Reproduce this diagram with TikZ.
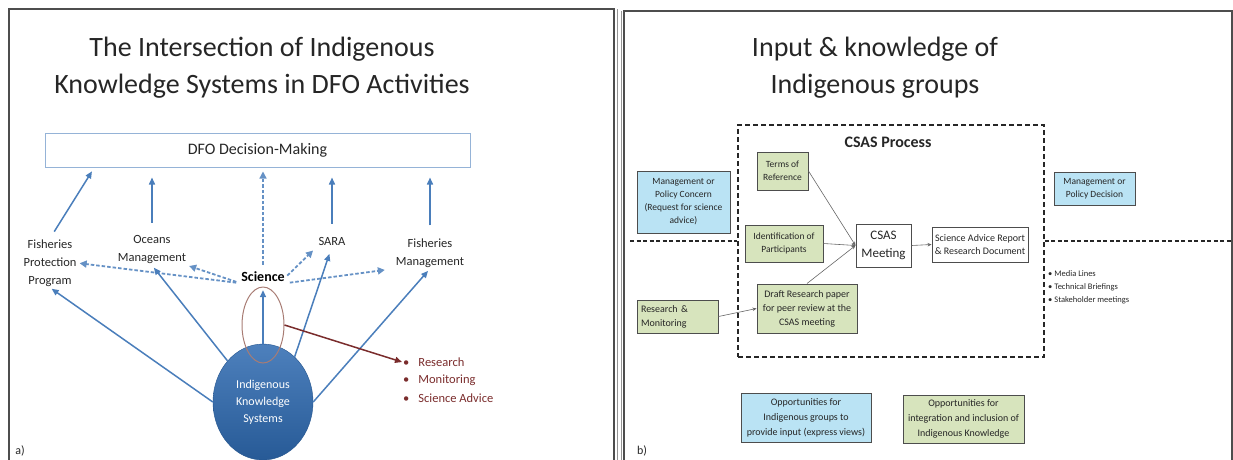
\documentclass[tikz,border=0pt]{standalone}
\usepackage{fontspec}
\setmainfont{Carlito}
\usetikzlibrary{arrows.meta}
\usetikzlibrary{shapes.geometric}

\definecolor{dfoblue}{HTML}{4A7EBB}
\definecolor{dfoframe}{HTML}{95B3D7}
\definecolor{iksfill}{HTML}{2E6AB1}
\definecolor{lensbrown}{HTML}{A87C74}
\definecolor{taskred}{HTML}{7A2C2C}
\definecolor{inputblue}{HTML}{BAE3F4}
\definecolor{ikgreen}{HTML}{D7E4BD}
\definecolor{boxgray}{HTML}{4D4D4D}

\begin{document}
\begin{tikzpicture}[x=1pt, y=-1pt,
  panel/.style={draw=boxgray, line width=1.3pt},
  heading/.style={font=\fontsize{28}{37}\selectfont, align=center, text=black!85},
  lbl/.style={font=\fontsize{12.5}{18}\selectfont, align=center, text=black!85, inner sep=1pt},
  dfobox/.style={draw=dfoframe, line width=1pt, minimum width=425pt, minimum height=34pt, font=\fontsize{16}{18}\selectfont, text=black!85},
  iks/.style={ellipse, top color=iksfill!85!white, bottom color=iksfill!85!black, draw=iksfill!80!black, minimum width=100pt, minimum height=116pt, inner sep=0pt, align=center, text=white, font=\fontsize{12}{17}\selectfont},
  lens/.style={ellipse, draw=lensbrown, line width=1pt, minimum width=42pt, minimum height=76pt},
  up/.style={draw=dfoblue, line width=1.5pt, -{Triangle[length=7pt,width=6pt]}},
  sciarrow/.style={draw=dfoblue!85, line width=1.8pt, dash pattern=on 3.5pt off 2pt, -{Triangle[length=7pt,width=7pt]}},
  taskarrow/.style={draw=taskred, line width=1.5pt, -{Triangle[length=7pt,width=6pt]}},
  task/.style={font=\fontsize{12.5}{18}\selectfont, text=taskred, inner sep=1pt},
  ibox/.style={draw=boxgray, line width=1pt, align=center, inner sep=1pt, font=\fontsize{9.5}{13}\selectfont, text=black!85},
  bluebox/.style={ibox, fill=inputblue},
  greenbox/.style={ibox, fill=ikgreen},
  whitebox/.style={ibox, fill=white},
  procbox/.style={draw=black!85, line width=1.6pt, dash pattern=on 5pt off 3pt, minimum width=306pt, minimum height=232pt},
  divider/.style={draw=black!85, line width=1.4pt, dash pattern=on 4pt off 2.5pt},
  flow/.style={draw=black!60, line width=0.6pt, -{Stealth[length=4pt,width=3.5pt]}},
  tag/.style={font=\fontsize{12}{14}\selectfont, text=black!85}]
  \useasboundingbox (0,0) rectangle (1233,459);
  % panel frames
  \draw[panel] (9,9) rectangle (614,480);
  \draw[panel, draw=boxgray!60, line width=0.8pt] (617,9) -- (617,480);
  \draw[panel, draw=boxgray!60, line width=0.8pt] (621,11) -- (621,480);
  \draw[panel] (624,11) rectangle (1232,480);
  % titles
  \node[heading] (titleA) at (262,68) {The Intersection of Indigenous\\Knowledge Systems in DFO Activities};
  \node[heading] (titleB) at (875,68) {Input \& knowledge of\\Indigenous groups};
  \node[tag] (tagA) at (20,451) {a)};
  \node[tag] (tagB) at (642,451) {b)};

  % a) decision box and activities
  \node[dfobox] (dfo) at (257.5,150) {DFO Decision-Making};
  \node[lbl] (fpp) at (50,263) {Fisheries\\Protection\\Program};
  \node[lbl] (om) at (152,250) {Oceans\\Management};
  \node[lbl] (sara) at (332,241) {SARA};
  \node[lbl] (fm) at (430,253) {Fisheries\\Management};
  \node[lbl, font=\fontsize{14}{18}\selectfont\bfseries, text=black] (sci) at (263,277) {Science};
  \node[iks] (iks) at (263,402) {Indigenous\\Knowledge\\Systems};
  \node[lens] (lens) at (263,325) {};
  \node[task, anchor=west] (res) at (402,362) {\textbullet\hspace{9pt}Research};
  \node[task, anchor=west] (mon) at (402,380) {\textbullet\hspace{9pt}Monitoring};
  \node[task, anchor=west] (adv) at (402,398) {\textbullet\hspace{9pt}Science Advice};
  % draw arrows up to the decision box
  \draw[up, shorten <=8pt, shorten >=1pt] (fpp.north) -- ([xshift=48pt,yshift=-3pt]dfo.south west);
  \draw[up, shorten <=12pt, shorten >=10pt] (om.north) -- (om.north |- dfo.south);
  \draw[up, shorten <=12pt, shorten >=10pt] (sara.north) -- (sara.north |- dfo.south);
  \draw[up, shorten <=12pt, shorten >=10pt] (fm.north) -- (fm.north |- dfo.south);
  \draw[sciarrow, line width=1.3pt, dash pattern=on 3.5pt off 2pt, shorten <=6pt, shorten >=4pt] (sci.north) -- (sci.north |- dfo.south);
  % draw dashed arrows out of science
  \draw[sciarrow, shorten <=4pt, shorten >=2pt] (sci.south west) -- (fpp.east);
  \draw[sciarrow, shorten <=4pt, shorten >=2pt] (sci.south west) -- (om.south east);
  \draw[sciarrow, shorten <=2pt, shorten >=6pt] (sci.east) -- (sara.south west);
  \draw[sciarrow, shorten <=4pt, shorten >=10pt] (sci.south east) -- (fm.south west);
  % draw arrows out of the knowledge systems
  \draw[up, shorten >=2pt] (iks.west) -- (fpp.south);
  \draw[up, shorten >=3pt] (iks.north west) -- (om.south);
  \draw[up, shorten >=7pt] (iks.north) -- (sci.south);
  \draw[up, shorten >=8pt] (iks.55) -- (sara.south);
  \draw[up, shorten >=3pt] (iks.east) -- (fm.south);
  \draw[taskarrow] (lens.east) -- (res.west);

  % b) CSAS process
  \node[procbox] (csas) at (891,241) {};
  \node[font=\fontsize{16}{18}\selectfont\bfseries, text=black!85] (csastitle) at (888,142) {CSAS Process};
  \coordinate (divL) at (630,241);
  \coordinate (divR) at (1233,241);
  \draw[divider] (divL) -- (csas.west);
  \draw[divider] (csas.east) -- (divR);
  \node[bluebox, minimum width=93pt, minimum height=62pt] (concern) at (683.5,202) {Management or\\Policy Concern\\(Request for science\\advice)};
  \node[greenbox, minimum width=51pt, minimum height=38pt] (tor) at (782.5,171) {Terms of\\Reference};
  \node[greenbox, minimum width=78pt, minimum height=37pt] (part) at (784,243.5) {Identification of\\Participants};
  \node[whitebox, minimum width=55pt, minimum height=43pt, font=\fontsize{13}{18}\selectfont] (meet) at (883.5,245.5) {CSAS\\Meeting};
  \node[whitebox, minimum width=96pt, minimum height=35pt, font=\fontsize{10}{13}\selectfont] (report) at (980,244.5) {Science Advice Report\\\& Research Document};
  \node[greenbox, minimum width=100pt, minimum height=49pt, font=\fontsize{10}{14}\selectfont] (draft) at (807,308.5) {Draft Research paper\\for peer review at the\\CSAS meeting};
  \node[greenbox, minimum width=81pt, minimum height=33pt, align=left, text width=73pt, font=\fontsize{10}{14}\selectfont] (resmon) at (677.5,316.5) {Research \&\\Monitoring};
  \node[bluebox, minimum width=81pt, minimum height=33pt] (decision) at (1094.5,188.5) {Management or\\Policy Decision};
  \node[anchor=north west, align=left, inner sep=0pt, font=\fontsize{8.5}{13}\selectfont, text=black!85] (outreach) at (1048,270) {\textbullet\ Media Lines\\\textbullet\ Technical Briefings\\\textbullet\ Stakeholder meetings};
  % draw the flow into and out of the meeting
  \draw[flow] (tor.east) -- (meet.west);
  \draw[flow] (part.east) -- (meet.west);
  \draw[flow] (draft.north) -- (meet.west);
  \draw[flow] (resmon.east) -- (draft.west);
  \draw[flow] (meet.east) -- (report.west);
  % legend
  \node[bluebox, minimum width=130pt, minimum height=49pt, font=\fontsize{10}{15}\selectfont] (oppin) at (806,417.5) {Opportunities for\\Indigenous groups to\\provide input (express views)};
  \node[greenbox, minimum width=121pt, minimum height=48pt, font=\fontsize{10}{15}\selectfont] (oppik) at (963.5,419) {Opportunities for\\integration and inclusion of\\Indigenous Knowledge};
\end{tikzpicture}
\end{document}
